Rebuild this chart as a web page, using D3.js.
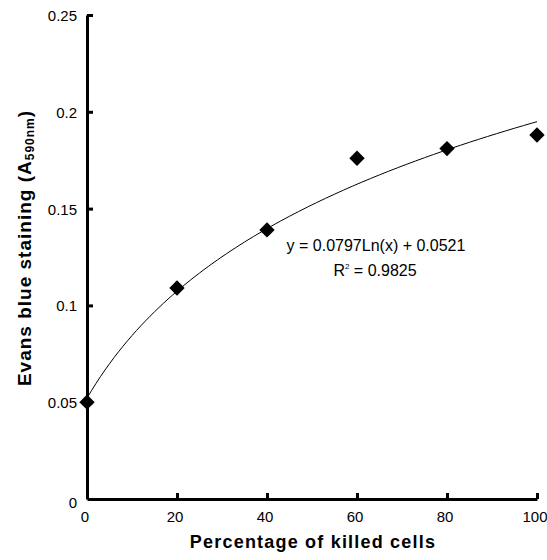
<!DOCTYPE html>
<html>
<head>
<meta charset="utf-8">
<script src="https://cdn.jsdelivr.net/npm/d3@7"></script>
<style>
  body { margin: 0; background: #fff; }
  svg { display: block; font-family: 'Liberation Sans', Arial, sans-serif; }
</style>
</head>
<body>
<div id="chart"></div>
<script>
// data
var killed = [0, 20, 40, 60, 80, 100];
var staining = [0.050, 0.109, 0.139, 0.176, 0.181, 0.188];
var xTicks = [0, 20, 40, 60, 80, 100];
var yTicks = [0, 0.05, 0.1, 0.15, 0.2, 0.25];
// logarithmic trendline (Excel fit over point index 1..6)
var fitA = 0.0797, fitB = 0.0521;

var width = 547, height = 560;
var x0 = 87, x1 = 537, yTop = 15, yBot = 499;

var svg = d3.select('#chart').append('svg')
  .attr('width', width)
  .attr('height', height);

var x = d3.scaleLinear().domain([0, 100]).range([x0, x1]);
var y = d3.scaleLinear().domain([0, 0.25]).range([yBot, yTop]);

// Axes: ticks point inward
var xAxis = svg.append('g')
  .attr('transform', 'translate(0,' + yBot + ')')
  .call(d3.axisTop(x).tickValues(xTicks).tickSize(6).tickSizeOuter(0).tickFormat(''));
var yAxis = svg.append('g')
  .attr('transform', 'translate(' + x0 + ',0)')
  .call(d3.axisRight(y).tickValues(yTicks).tickSize(6).tickSizeOuter(0).tickFormat(''));

[xAxis, yAxis].forEach(function(a) {
  a.select('.domain').attr('stroke', '#000').attr('stroke-width', 3);
  a.selectAll('.tick line').attr('stroke', '#000').attr('stroke-width', 3);
});
xAxis.selectAll('.tick').filter(function(d) { return d === 0; }).remove();
yAxis.selectAll('.tick').filter(function(d) { return d === 0; }).remove();

// Tick labels
svg.append('g').selectAll('text')
  .data(xTicks)
  .enter().append('text')
  .attr('x', function(d) { return d === 100 ? x(d) - 2 : x(d) - 2; })
  .attr('y', yBot + 23)
  .attr('text-anchor', 'middle')
  .attr('font-size', 15)
  .text(function(d) { return d; });

svg.append('g').selectAll('text')
  .data(yTicks)
  .enter().append('text')
  .attr('x', x0 - 10)
  .attr('y', function(d) { return d === 0 ? y(d) + 9 : y(d) + 6; })
  .attr('text-anchor', 'end')
  .attr('font-size', 15)
  .text(function(d) { return d; });

// Trendline
var curvePts = d3.range(0, 100.5, 1).map(function(p) {
  return [p, fitA * Math.log(p / 20 + 1) + fitB];
});
svg.append('path')
  .datum(curvePts)
  .attr('fill', 'none')
  .attr('stroke', '#000')
  .attr('stroke-width', 1)
  .attr('d', d3.line()
    .x(function(d) { return x(d[0]); })
    .y(function(d) { return y(d[1]); }));

// Diamond markers
svg.append('g').selectAll('path')
  .data(killed)
  .enter().append('path')
  .attr('transform', function(d, i) { return 'translate(' + x(d) + ',' + y(staining[i]) + ')'; })
  .attr('d', d3.symbol().type(d3.symbolDiamond2).size(150))
  .attr('fill', '#000');

// Equation
svg.append('text')
  .attr('x', 376)
  .attr('y', 251)
  .attr('text-anchor', 'middle')
  .attr('font-size', 16)
  .text('y = 0.0797Ln(x) + 0.0521');
var r2 = svg.append('text')
  .attr('x', 375)
  .attr('y', 276)
  .attr('text-anchor', 'middle')
  .attr('font-size', 16);
r2.append('tspan').text('R');
r2.append('tspan').attr('dy', -7).attr('font-size', 8).text('2');
r2.append('tspan').attr('dy', 7).text(' = 0.9825');

// Axis titles
svg.append('text')
  .attr('x', 313)
  .attr('y', 548)
  .attr('text-anchor', 'middle')
  .attr('font-size', 18)
  .attr('font-weight', 'bold')
  .attr('letter-spacing', 1.2)
  .text('Percentage of killed cells');

var yt = svg.append('text')
  .attr('transform', 'translate(31,248) rotate(-90)')
  .attr('text-anchor', 'middle')
  .attr('font-size', 19)
  .attr('font-weight', 'bold')
  .attr('letter-spacing', 1);
yt.append('tspan').text('Evans blue staining (A');
yt.append('tspan').attr('font-size', 12).attr('dy', 3).text('590nm');
yt.append('tspan').attr('dy', -3).text(')');
</script>
</body>
</html>
